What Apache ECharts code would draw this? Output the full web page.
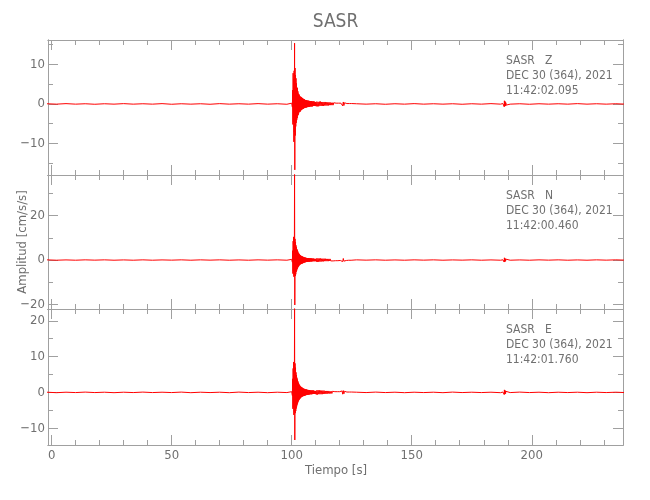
<!DOCTYPE html>
<html>
<head>
<meta charset="utf-8">
<script src="https://cdn.jsdelivr.net/npm/echarts@6/dist/echarts.min.js"></script>
<style>html,body{margin:0;padding:0;background:#fff}#c{width:650px;height:500px}</style>
</head>
<body>
<div id="c"></div>
<script>
// ---------------- data ----------------
const title = 'SASR';
const station = 'SASR';
const channels = ['Z', 'N', 'E'];
const dateLabel = 'DEC 30 (364), 2021';
const startTimes = ['11:42:02.095', '11:42:00.460', '11:42:01.760'];
const xTitle = 'Tiempo [s]';
const yTitle = 'Amplitud [cm/s/s]';

const xMin = -1.5, xMax = 238;
const xMajor = [0, 50, 100, 150, 200];
const xMinor = [10, 20, 30, 40, 60, 70, 80, 90, 110, 120, 130, 140, 160, 170, 180, 190, 210, 220, 230];

const yMin = [-18, -22, -14.7];
const yMax = [16.2, 38.2, 23.3];
const yMajor = [[-10, 0, 10], [-20, 0, 20], [-10, 0, 10, 20]];
const yMinor = [[-15, -5, 5, 15], [-10, 10, 30], [-5, 5, 15]];

// sampling of the trace segments (start time, step in s)
const segStart = [-2, 100, 110.25, 127, 188, 191];
const segStep = [4, 0.1, 0.25, 4, 0.1, 4];

// Z channel
const zPre = [0.05,-0.05,0.08,-0.05,0.05,-0.08,0.05,-0.05,0.08,-0.05,0.05,-0.05,0.08,-0.08,0.05,-0.05,0.05,-0.08,0.08,-0.05,0.05,-0.05,0.08,-0.05,0.05,-0.08];
const zEvent = [0.2,-0.3,0.5,-0.8,
  3.5,-5.2,7.8,-4.5,6.2,-9.6,8.4,
  -7.1,15.4,-16.7,9.1,-8.0,7.3,-5.7,6.5,-4.8,5.2,
  -4.1,3.9,-3.6,4.1,-3.0,3.2,-2.8,2.6,-2.4,2.5,
  -2.1,2.2,-1.9,2.0,-2.0,1.8,-1.7,1.8,-1.6,1.7,
  -1.5,1.6,-1.4,1.5,-1.3,1.4,-1.2,1.3,-1.2,1.2,
  -1.1,1.2,-1.0,1.1,-1.0,1.0,-0.9,1.0,-0.9,0.9,
  -0.9,0.9,-0.8,0.9,-0.8,0.8,-0.8,0.8,-0.7,0.8,
  -0.7,0.8,-0.7,0.7,-0.7,0.7,-0.6,0.7,-0.6,0.7,
  -0.6,0.7,-0.6,0.6,-0.6,0.6,-0.6,0.6,-0.5,0.6,
  -0.5,0.6,-0.5,0.6,-0.5,0.5,-0.5,0.5,-0.5,0.5];
const zCoda = [-0.6,0.6,-0.6,0.5,-0.6,0.6,-0.5,0.6,-0.5,0.5,
  -0.5,0.5,-0.5,0.5,-0.4,0.5,-0.4,0.4,-0.4,0.4,
  -0.4,0.4,-0.3,0.4,-0.3,0.3,-0.3,0.3,-0.3,0.3,
  -0.2,0.3,-0.2,0.2,-0.2,0.2,-0.2,0.2,-0.2,0.2,
  -0.2,0.2,-0.2,0.4,-0.5,0.5,-0.4,0.3,-0.2,0.2,
  -0.1,0.1,-0.1,0.1,-0.1,0.1,-0.1,0.1,-0.1,0.1];
const zPost1 = [0.05,-0.05,0.05,-0.08,0.05,-0.05,0.08,-0.05,0.05,-0.05,0.05,-0.08,0.05,-0.05,0.08,-0.05];
const zBump = [0.1,-0.1,0.2,-0.3,0.5,-0.7,0.8,-0.6,0.7,-0.5,0.4,-0.4,0.3,-0.3,0.2,-0.2,0.2,-0.1,0.1,-0.1,0.05];
const zPost2 = [-0.05,0.05,-0.08,0.05,-0.05,0.05,-0.05,0.08,-0.05,0.05,-0.05,0.05,-0.05];

// N channel
const nPre = [0.08,-0.08,0.05,-0.08,0.08,-0.05,0.08,-0.08,0.05,-0.08,0.08,-0.08,0.05,-0.05,0.08,-0.08,0.08,-0.05,0.08,-0.08,0.05,-0.08,0.08,-0.05,0.08,-0.08];
const nEvent = [0.3,-0.4,0.6,-1.0,
  4.2,-6.1,8.5,-5.0,10.4,-7.5,9.0,
  -6.8,40,-20.2,9.5,-7.2,8.1,-6.4,6.6,-5.3,5.8,
  -4.7,4.9,-4.1,4.4,-3.6,3.8,-3.1,3.2,-2.8,2.9,
  -2.5,2.6,-2.2,2.3,-2.0,2.1,-1.9,2.0,-1.8,1.8,
  -1.7,1.7,-1.6,1.6,-1.5,1.5,-1.4,1.4,-1.3,1.3,
  -1.2,1.2,-1.1,1.1,-1.0,1.1,-1.0,1.0,-0.9,1.0,
  -0.9,0.9,-0.8,0.9,-0.8,0.8,-0.8,0.8,-0.7,0.8,
  -0.7,0.8,-0.7,0.7,-0.7,0.7,-0.6,0.7,-0.6,0.7,
  -0.6,0.7,-0.6,0.6,-0.6,0.6,-0.5,0.6,-0.5,0.6,
  -0.5,0.6,-0.5,0.5,-0.5,0.5,-0.5,0.5,-0.4,0.5];
const nCoda = [-0.8,0.8,-0.8,0.7,-0.8,0.7,-0.7,0.7,-0.7,0.6,
  -0.6,0.6,-0.6,0.6,-0.5,0.6,-0.5,0.5,-0.5,0.5,
  -0.5,0.5,-0.4,0.5,-0.4,0.4,-0.4,0.4,-0.4,0.3,
  -0.3,0.3,-0.3,0.3,-0.3,0.3,-0.3,0.3,-0.2,0.2,
  -0.2,0.3,-0.3,0.5,-0.7,0.7,-0.5,0.3,-0.2,0.2,
  -0.2,0.1,-0.1,0.1,-0.1,0.1,-0.1,0.1,-0.1,0.1];
const nPost1 = [0.08,-0.05,0.08,-0.08,0.05,-0.08,0.08,-0.05,0.08,-0.08,0.05,-0.05,0.08,-0.08,0.05,-0.08];
const nBump = [0.1,-0.2,0.3,-0.4,0.7,-0.9,1.0,-0.8,0.8,-0.6,0.5,-0.5,0.4,-0.3,0.3,-0.2,0.2,-0.2,0.1,-0.1,0.05];
const nPost2 = [-0.08,0.05,-0.08,0.08,-0.05,0.08,-0.08,0.05,-0.08,0.08,-0.05,0.08,-0.05];

// E channel
const ePre = [0.05,-0.08,0.05,-0.05,0.08,-0.05,0.05,-0.08,0.05,-0.05,0.08,-0.05,0.05,-0.05,0.08,-0.08,0.05,-0.05,0.05,-0.08,0.08,-0.05,0.05,-0.08,0.05,-0.05];
const eEvent = [0.2,-0.3,0.5,-0.9,
  3.8,-4.6,6.7,-4.1,8.5,-6.3,7.2,
  -5.4,23.5,-13.3,8.1,-5.8,6.9,-5.2,5.6,-4.5,4.8,
  -3.9,4.1,-3.4,3.6,-3.0,3.1,-2.6,2.7,-2.3,2.4,
  -2.1,2.1,-1.8,1.9,-1.7,1.7,-1.6,1.6,-1.4,1.5,
  -1.3,1.4,-1.2,1.3,-1.1,1.2,-1.1,1.1,-1.0,1.0,
  -1.0,1.0,-0.9,0.9,-0.9,0.9,-0.8,0.8,-0.8,0.8,
  -0.7,0.8,-0.7,0.7,-0.7,0.7,-0.6,0.7,-0.6,0.6,
  -0.6,0.6,-0.6,0.6,-0.5,0.6,-0.5,0.5,-0.5,0.5,
  -0.5,0.5,-0.5,0.5,-0.5,0.5,-0.4,0.5,-0.4,0.5,
  -0.4,0.5,-0.4,0.4,-0.4,0.4,-0.4,0.4,-0.4,0.4];
const eCoda = [-0.6,0.6,-0.6,0.6,-0.5,0.6,-0.5,0.5,-0.5,0.5,
  -0.5,0.5,-0.4,0.5,-0.4,0.4,-0.4,0.4,-0.4,0.4,
  -0.3,0.4,-0.3,0.3,-0.3,0.3,-0.3,0.3,-0.2,0.3,
  -0.2,0.2,-0.2,0.2,-0.2,0.2,-0.2,0.2,-0.2,0.2,
  -0.2,0.2,-0.2,0.4,-0.5,0.5,-0.4,0.3,-0.2,0.2,
  -0.1,0.1,-0.1,0.1,-0.1,0.1,-0.1,0.1,-0.1,0.1];
const ePost1 = [0.05,-0.05,0.08,-0.05,0.05,-0.08,0.05,-0.05,0.05,-0.08,0.08,-0.05,0.05,-0.05,0.05,-0.08];
const eBump = [0.1,-0.1,0.2,-0.3,0.4,-0.6,0.7,-0.5,0.6,-0.4,0.4,-0.3,0.3,-0.2,0.2,-0.2,0.1,-0.1,0.1,-0.1,0.05];
const ePost2 = [-0.05,0.08,-0.05,0.05,-0.08,0.05,-0.05,0.05,-0.08,0.05,-0.05,0.05,-0.05];

const traces = [
  [zPre, zEvent, zCoda, zPost1, zBump, zPost2],
  [nPre, nEvent, nCoda, nPost1, nBump, nPost2],
  [ePre, eEvent, eCoda, ePost1, eBump, ePost2]
];

// ---------------- layout / style ----------------
const FONT = "'Liberation Sans Narrow','DejaVu Sans Condensed','Roboto Condensed',sans-serif";
const AXIS = '#a0a0a0';
const TEXT = '#707070';
const gridLeft = 48, gridRight = 27;
const gridTop = [40, 175, 309];
const gridH = [135, 134, 136];

function buildTrace(segs) {
  const out = [];
  segs.forEach((vals, s) => {
    vals.forEach((v, i) => {
      out.push([+(segStart[s] + i * segStep[s]).toFixed(3), v]);
    });
  });
  return out;
}

const fmt = v => String(v).replace('-', '\u2212');

function xAx(g, pos, ticks, len, label) {
  return {
    type: 'value', gridIndex: g, position: pos, min: xMin, max: xMax,
    axisLine: { show: true, onZero: false, lineStyle: { color: AXIS, width: 1 } },
    axisTick: { show: true, inside: true, length: len, customValues: ticks, lineStyle: { color: AXIS, width: 1 } },
    axisLabel: label ? { show: true, customValues: ticks, margin: 4, color: TEXT, fontFamily: FONT, fontSize: 13, formatter: fmt }
                     : { show: false },
    splitLine: { show: false }, minorTick: { show: false }
  };
}
function yAx(g, pos, ticks, len, label) {
  return {
    type: 'value', gridIndex: g, position: pos, min: yMin[g], max: yMax[g],
    axisLine: { show: true, onZero: false, lineStyle: { color: AXIS, width: 1 } },
    axisTick: { show: true, inside: true, length: len, customValues: ticks, lineStyle: { color: AXIS, width: 1 } },
    axisLabel: label ? { show: true, customValues: ticks, margin: 3, color: TEXT, fontFamily: FONT, fontSize: 13, formatter: fmt }
                     : { show: false },
    splitLine: { show: false }, minorTick: { show: false }
  };
}

const grids = [], xAxes = [], yAxes = [], series = [], graphics = [];
for (let g = 0; g < 3; g++) {
  grids.push({ left: gridLeft, right: gridRight, top: gridTop[g], height: gridH[g], outerBoundsMode: 'none', containLabel: false });
  xAxes.push(xAx(g, 'bottom', xMajor, 10, g === 2));
  xAxes.push(xAx(g, 'bottom', xMinor, 5, false));
  xAxes.push(xAx(g, 'top', xMajor, 10, false));
  xAxes.push(xAx(g, 'top', xMinor, 5, false));
  yAxes.push(yAx(g, 'left', yMajor[g], 10, true));
  yAxes.push(yAx(g, 'left', yMinor[g], 5, false));
  yAxes.push(yAx(g, 'right', yMajor[g], 10, false));
  yAxes.push(yAx(g, 'right', yMinor[g], 5, false));
  series.push({
    type: 'line', xAxisIndex: 4 * g, yAxisIndex: 4 * g,
    data: buildTrace(traces[g]), showSymbol: false, symbol: 'none',
    lineStyle: { color: '#ff0000', width: 1 }, clip: true, sampling: null,
    silent: true, z: 1
  });
  const lines = [station + '   ' + channels[g], dateLabel, startTimes[g]];
  lines.forEach((t, k) => {
    graphics.push({
      type: 'text', x: 506, y: gridTop[g] + 20.5 + k * 15,
      style: { text: t, fill: TEXT, font: '12px ' + FONT, align: 'left', verticalAlign: 'middle' }
    });
  });
}
graphics.push({ type: 'text', x: 335.5, y: 22.5,
  style: { text: title, fill: TEXT, font: '19px ' + FONT, align: 'center', verticalAlign: 'middle' } });
graphics.push({ type: 'text', x: 336, y: 471,
  style: { text: xTitle, fill: TEXT, font: '13px ' + FONT, align: 'center', verticalAlign: 'middle' } });
graphics.push({ type: 'text', x: 23, y: 242, rotation: Math.PI / 2,
  style: { text: yTitle, fill: TEXT, font: '13px ' + FONT, align: 'center', verticalAlign: 'middle' } });

const chart = echarts.init(document.getElementById('c'), null, { renderer: 'canvas' });
chart.setOption({
  backgroundColor: '#ffffff',
  animation: false,
  grid: grids,
  xAxis: xAxes,
  yAxis: yAxes,
  series: series,
  graphic: graphics
});
</script>
</body>
</html>
